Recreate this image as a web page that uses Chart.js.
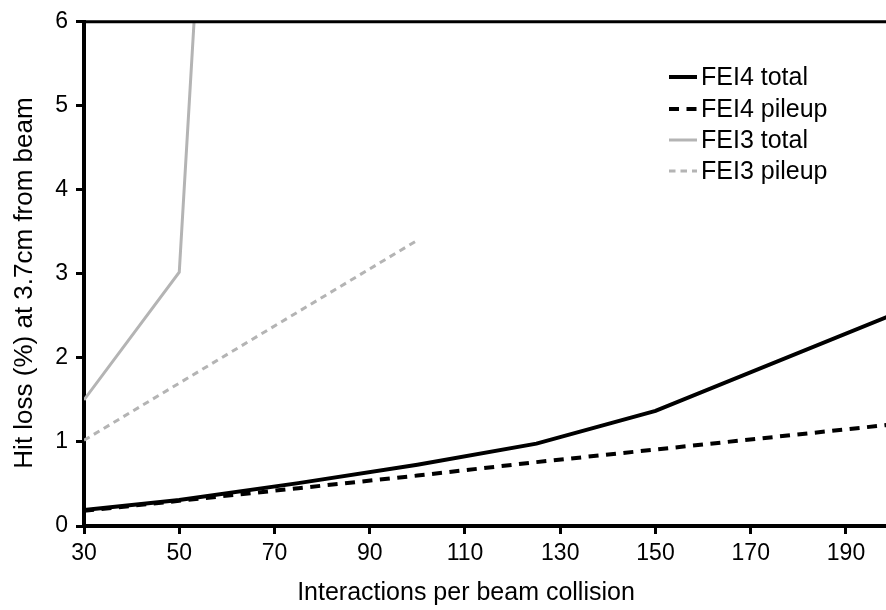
<!DOCTYPE html>
<html>
<head>
<meta charset="utf-8">
<script src="https://cdn.jsdelivr.net/npm/chart.js@4"></script>
<style>
  body { margin: 0; background: #fff; }
</style>
</head>
<body>
<canvas id="hitLossChart" width="886" height="610"></canvas>
<script>
// tick positions
const xTicks = [30, 50, 70, 90, 110, 130, 150, 170, 190];

// FEI4 series
const fei4X = [30, 50, 75, 100, 125, 150, 200];
const fei4Total = [0.19, 0.31, 0.51, 0.73, 0.98, 1.37, 2.52];
const fei4Pileup = [0.18, 0.3, 0.45, 0.6, 0.76, 0.91, 1.21];

// FEI3 series
const fei3TotalX = [30, 50, 75];
const fei3Total = [1.5, 3.02, 27.0];
const fei3PileupX = [30, 50, 75, 100];
const fei3Pileup = [1.02, 1.7, 2.55, 3.4];

const toPoints = (xs, ys) => xs.map((x, i) => ({ x: x, y: ys[i] }));

const gray = "rgb(180, 180, 180)";
const font = "'Liberation Sans', Arial, sans-serif";

// legend drawn inside the plot, top right
const insideLegend = {
  id: "insideLegend",
  afterDraw(chart) {
    const ctx = chart.ctx;
    const rows = [77, 109, 140, 171];
    ctx.save();
    ctx.font = "25px " + font;
    ctx.textBaseline = "middle";
    ctx.fillStyle = "#000";
    chart.data.datasets.forEach((ds, i) => {
      const y = rows[i];
      ctx.beginPath();
      ctx.strokeStyle = ds.borderColor;
      ctx.lineWidth = ds.borderWidth;
      ctx.setLineDash(ds.borderDash || []);
      ctx.moveTo(669, y);
      ctx.lineTo(697, y);
      ctx.stroke();
      ctx.setLineDash([]);
      ctx.fillText(ds.label, 701, y + 1);
    });
    ctx.restore();
  },
};

// top frame line and axis titles
const frameAndTitles = {
  id: "frameAndTitles",
  afterDraw(chart) {
    const ctx = chart.ctx;
    const area = chart.chartArea;
    ctx.save();
    ctx.strokeStyle = "#000";
    ctx.lineWidth = 3;
    ctx.beginPath();
    ctx.moveTo(area.left, area.top);
    ctx.lineTo(area.right, area.top);
    ctx.stroke();

    ctx.fillStyle = "#000";
    ctx.font = "25px " + font;
    ctx.textAlign = "center";
    ctx.textBaseline = "alphabetic";
    ctx.fillText("Interactions per beam collision", 466, 600);

    ctx.font = "26px " + font;
    ctx.translate(31.5, 283);
    ctx.rotate(-Math.PI / 2);
    ctx.fillText("Hit loss (%) at 3.7cm from beam", 0, 0);
    ctx.restore();
  },
};

const hitLossChart = new Chart(document.getElementById("hitLossChart"), {
  type: "line",
  data: {
    datasets: [
      {
        label: "FEI4 total",
        data: toPoints(fei4X, fei4Total),
        borderColor: "#000",
        borderWidth: 4,
      },
      {
        label: "FEI4 pileup",
        data: toPoints(fei4X, fei4Pileup),
        borderColor: "#000",
        borderWidth: 4,
        borderDash: [10, 7.5],
      },
      {
        label: "FEI3 total",
        data: toPoints(fei3TotalX, fei3Total),
        borderColor: gray,
        borderWidth: 3,
      },
      {
        label: "FEI3 pileup",
        data: toPoints(fei3PileupX, fei3Pileup),
        borderColor: gray,
        borderWidth: 3,
        borderDash: [6.5, 5],
      },
    ],
  },
  options: {
    responsive: false,
    animation: false,
    layout: { padding: { top: 19, right: 0, bottom: 0, left: 0 } },
    elements: {
      point: { radius: 0 },
      line: { tension: 0, fill: false },
    },
    plugins: {
      legend: { display: false },
      tooltip: { enabled: false },
    },
    scales: {
      x: {
        type: "linear",
        min: 30,
        max: 198.4,
        afterBuildTicks: (scale) => {
          scale.ticks = xTicks.map((v) => ({ value: v }));
        },
        afterFit: (scale) => {
          scale.height = 84;
        },
        border: { display: true, color: "#000", width: 4 },
        grid: {
          drawOnChartArea: false,
          drawTicks: true,
          tickLength: 8,
          tickWidth: 3,
          tickColor: "#000",
        },
        ticks: {
          color: "#000",
          padding: 6,
          maxRotation: 0,
          autoSkip: false,
          font: { family: font, size: 23 },
        },
      },
      y: {
        min: 0,
        max: 6,
        afterFit: (scale) => {
          scale.width = 84;
        },
        border: { display: true, color: "#000", width: 4 },
        grid: {
          drawOnChartArea: false,
          drawTicks: true,
          tickLength: 8,
          tickWidth: 3,
          tickColor: "#000",
        },
        ticks: {
          stepSize: 1,
          color: "#000",
          padding: 8,
          font: { family: font, size: 23 },
        },
      },
    },
  },
  plugins: [insideLegend, frameAndTitles],
});
</script>
</body>
</html>
